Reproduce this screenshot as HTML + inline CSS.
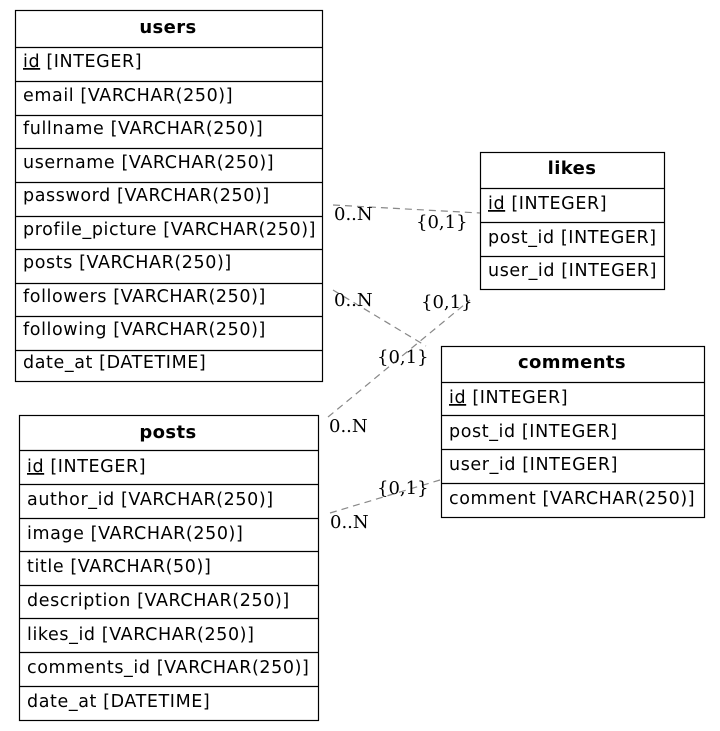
<!DOCTYPE html>
<html><head><meta charset="utf-8"><style>
html,body{margin:0;padding:0;background:#fff;width:720px;height:731px;overflow:hidden}
svg{display:block}
.t{font-family:"DejaVu Sans",sans-serif;font-size:17.5px;letter-spacing:0.6px;fill:#000}
.h{font-family:"DejaVu Sans",sans-serif;font-size:18px;font-weight:bold;letter-spacing:0.4px;fill:#000}
.l{font-family:"DejaVu Serif","Liberation Serif",serif;font-size:18px;fill:#000}
</style></head><body>
<svg width="720" height="731" xmlns="http://www.w3.org/2000/svg">
<g fill="none" stroke="#000" stroke-width="1.2">
<rect x="15.5" y="10.5" width="307" height="371"/>
<path d="M15 47.5H322M15 81.5H322M15 115.5H322M15 148.5H322M15 182.5H322M15 216.5H322M15 249.5H322M15 283.5H322M15 316.5H322M15 350.5H322"/>
<rect x="480.5" y="152.5" width="184" height="137"/>
<path d="M480 188.5H664M480 222.5H664M480 256.5H664"/>
<rect x="441.5" y="346.5" width="263" height="171"/>
<path d="M441 382.5H704M441 415.5H704M441 449.5H704M441 483.5H704"/>
<rect x="19.5" y="415.5" width="299" height="305"/>
<path d="M19 450.5H318M19 484.5H318M19 518.5H318M19 551.5H318M19 585.5H318M19 618.5H318M19 652.5H318M19 686.5H318"/>
</g>
<g stroke="#888" stroke-width="1.2" stroke-dasharray="7,5" fill="none">
<path d="M333 205L480 213"/>
<path d="M333 290L426 346"/>
<path d="M328 417L470 300"/>
<path d="M330 513L440 480"/>
</g>
<text class="h" x="168" y="33" text-anchor="middle">users</text>
<g class="t">
<text x="23" y="67"><tspan text-decoration="underline">id</tspan> [INTEGER]</text>
<text x="23" y="101">email [VARCHAR(250)]</text>
<text x="23" y="134">fullname [VARCHAR(250)]</text>
<text x="23" y="168">username [VARCHAR(250)]</text>
<text x="23" y="201">password [VARCHAR(250)]</text>
<text x="23" y="235">profile_picture [VARCHAR(250)]</text>
<text x="23" y="268">posts [VARCHAR(250)]</text>
<text x="23" y="302">followers [VARCHAR(250)]</text>
<text x="23" y="335">following [VARCHAR(250)]</text>
<text x="23" y="368">date_at [DATETIME]</text>
</g>
<text class="h" x="572" y="174" text-anchor="middle">likes</text>
<g class="t">
<text x="488" y="209"><tspan text-decoration="underline">id</tspan> [INTEGER]</text>
<text x="488" y="243">post_id [INTEGER]</text>
<text x="488" y="276">user_id [INTEGER]</text>
</g>
<text class="h" x="572" y="368" text-anchor="middle">comments</text>
<g class="t">
<text x="449" y="403"><tspan text-decoration="underline">id</tspan> [INTEGER]</text>
<text x="449" y="437">post_id [INTEGER]</text>
<text x="449" y="470">user_id [INTEGER]</text>
<text x="449" y="504">comment [VARCHAR(250)]</text>
</g>
<text class="h" x="168" y="438" text-anchor="middle">posts</text>
<g class="t">
<text x="27" y="472"><tspan text-decoration="underline">id</tspan> [INTEGER]</text>
<text x="27" y="505">author_id [VARCHAR(250)]</text>
<text x="27" y="539">image [VARCHAR(250)]</text>
<text x="27" y="572">title [VARCHAR(50)]</text>
<text x="27" y="606">description [VARCHAR(250)]</text>
<text x="27" y="640">likes_id [VARCHAR(250)]</text>
<text x="27" y="673">comments_id [VARCHAR(250)]</text>
<text x="27" y="707">date_at [DATETIME]</text>
</g>
<g class="l">
<text x="334" y="220">0..N</text>
<text x="416" y="228">{0,1}</text>
<text x="334" y="306">0..N</text>
<text x="421" y="308">{0,1}</text>
<text x="377" y="363">{0,1}</text>
<text x="329" y="432">0..N</text>
<text x="377" y="494">{0,1}</text>
<text x="330" y="528">0..N</text>
</g>
</svg>
</body></html>
